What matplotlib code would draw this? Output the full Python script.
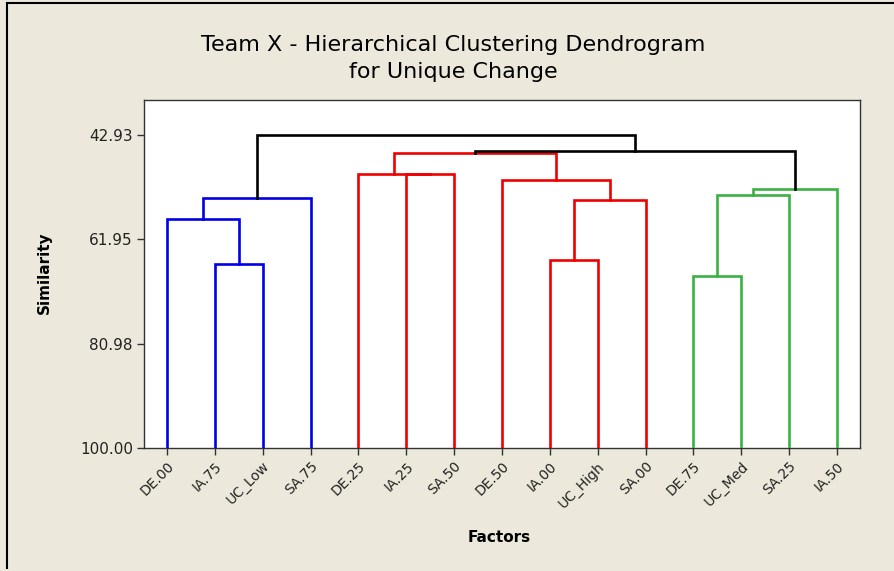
import numpy as np
import matplotlib
matplotlib.use("Agg")
import matplotlib.pyplot as plt
from matplotlib.lines import Line2D

# leaves in dendrogram order
leaves = ["DE.00", "IA.75", "UC_Low", "SA.75", "DE.25", "IA.25", "SA.50", "DE.50",
          "IA.00", "UC_High", "SA.00", "DE.75", "UC_Med", "SA.25", "IA.50"]

# merges: new node ids start at len(leaves) (scipy-linkage style)
merge_left = [11, 1, 8, 0, 10, 3, 13, 14, 5, 4, 7, 24, 26, 20]
merge_right = [12, 2, 9, 16, 17, 18, 15, 21, 6, 23, 19, 25, 22, 27]
merge_sim = [68.65, 66.46, 65.73, 58.31, 54.79, 54.37, 53.88, 52.79,
             50.05, 50.05, 51.15, 46.13, 45.86, 42.93]
merge_color = ["green", "blue", "red", "blue", "red", "blue", "green", "green",
               "red", "red", "red", "red", "black", "black"]

yticks = [42.93, 61.95, 80.98, 100.00]

colors = {"blue": "#0000e6", "red": "#ee0000", "green": "#3cb043", "black": "#000000"}
bg = "#ece9dc"

fig = plt.figure(figsize=(8.94, 5.71), dpi=100, facecolor=bg)
ax = fig.add_axes([0.161, 0.2154, 0.801, 0.6095])
ax.set_facecolor("white")

# positions / heights of every node
pos = {i: i + 1 for i in range(len(leaves))}
hgt = {i: 100.0 for i in range(len(leaves))}
n = len(leaves)
for k, (a, b, s, c) in enumerate(zip(merge_left, merge_right, merge_sim, merge_color)):
    ax.plot([pos[a], pos[a], pos[b], pos[b]], [hgt[a], s, s, hgt[b]],
            color=colors[c], lw=1.9, solid_joinstyle="miter", zorder=3)
    pos[n + k] = (pos[a] + pos[b]) / 2
    hgt[n + k] = s

ax.set_xlim(0.52, 15.48)
ax.set_ylim(100, 36.55)
ax.set_yticks(yticks)
ax.set_yticklabels(["%.2f" % v for v in yticks], fontsize=11, color="#222222")
ax.set_xticks(range(1, n + 1))
ax.set_xticklabels(leaves, rotation=45, ha="right", rotation_mode="anchor",
                   fontsize=10, color="#222222")
ax.tick_params(direction="out", length=5, width=1, color="#333333", pad=3)
for sp in ax.spines.values():
    sp.set_color("#333333")
    sp.set_linewidth(1)

fig.text(0.507, 0.910, "Team X - Hierarchical Clustering Dendrogram",
         ha="center", va="baseline", fontsize=16)
fig.text(0.507, 0.863, "for Unique Change", ha="center", va="baseline", fontsize=16)
fig.text(0.050, 0.522, "Similarity", rotation=90, ha="center", va="center",
         fontsize=11, fontweight="bold")
fig.text(0.558, 0.058, "Factors", ha="center", va="center",
         fontsize=11, fontweight="bold")

# window frame (left and top edges only)
fig.add_artist(Line2D([0.008, 0.008], [0.005, 0.995], color="black", lw=1.5,
                      transform=fig.transFigure))
fig.add_artist(Line2D([0.008, 1.0], [0.995, 0.995], color="black", lw=1.5,
                      transform=fig.transFigure))

fig.savefig("out.png", dpi=100, facecolor=bg)
